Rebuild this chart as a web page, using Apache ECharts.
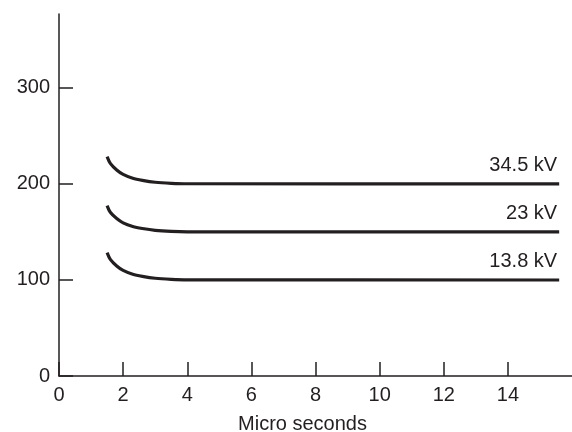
<!DOCTYPE html>
<html><head><meta charset="utf-8">
<script src="https://cdn.jsdelivr.net/npm/echarts@6/dist/echarts.min.js"></script>
<style>html,body{margin:0;padding:0;background:#fff}#c{width:572px;height:432px}</style>
</head><body><div id="c"></div>
<script>
var xTicks = [0, 2, 4, 6, 8, 10, 12, 14];
var yTicks = [0, 100, 200, 300];
var seriesNames = ['34.5 kV', '23 kV', '13.8 kV'];
var curve345 = [[1.5,228.5],[1.6,221.5],[1.8,214.6],[2,210],[2.3,206],[2.6,203.8],[3,201.8],[3.5,200.7],[4,200.2],[15.6,200]];
var curve23 = [[1.5,177.5],[1.6,170.5],[1.8,164],[2,159.5],[2.3,155.7],[2.6,153.6],[3,151.7],[3.5,150.6],[4,150.2],[15.6,150]];
var curve138 = [[1.5,128.5],[1.6,121.5],[1.8,114.6],[2,110],[2.3,106],[2.6,103.8],[3,101.8],[3.5,100.7],[4,100.2],[15.6,100]];
var allData = [curve345, curve23, curve138];

var textColor = '#231f20';
var font = 'Liberation Sans, Arial, sans-serif';
var chart = echarts.init(document.getElementById('c'));
chart.setOption({
  animation: false,
  backgroundColor: '#fff',
  grid: {left: 59, right: 0, top: 14, bottom: 56, containLabel: false, outerBoundsMode: 'none'},
  xAxis: {
    type: 'value', min: 0, max: 16, interval: 2,
    name: 'Micro seconds', nameLocation: 'middle', nameGap: 38,
    nameTextStyle: {fontSize: 20, color: textColor, fontFamily: font, padding: [0, 26, 0, 0]},
    axisLine: {show: true, lineStyle: {color: textColor, width: 1.5}},
    axisTick: {show: true, inside: true, length: 14, lineStyle: {color: textColor, width: 1.5}, customValues: xTicks},
    axisLabel: {fontSize: 20, color: textColor, fontFamily: font, margin: 9, customValues: xTicks},
    splitLine: {show: false}
  },
  yAxis: {
    type: 'value', min: 0, max: 377,
    axisLine: {show: true, lineStyle: {color: textColor, width: 1.5}},
    axisTick: {show: true, inside: true, length: 14, lineStyle: {color: textColor, width: 1.5}, customValues: yTicks},
    axisLabel: {fontSize: 20, color: textColor, fontFamily: font, margin: 9, customValues: yTicks, verticalAlign: 'middle'},
    splitLine: {show: false}
  },
  series: allData.map(function (d, i) {
    return {
      type: 'line', name: seriesNames[i], data: d,
      smooth: 0.3, symbol: 'none',
      lineStyle: {color: textColor, width: 3.2},
      endLabel: {show: true, formatter: seriesNames[i], align: 'right', verticalAlign: 'bottom',
        offset: [-10, -8], fontSize: 20, color: textColor, fontFamily: font}
    };
  })
});
</script></body></html>
